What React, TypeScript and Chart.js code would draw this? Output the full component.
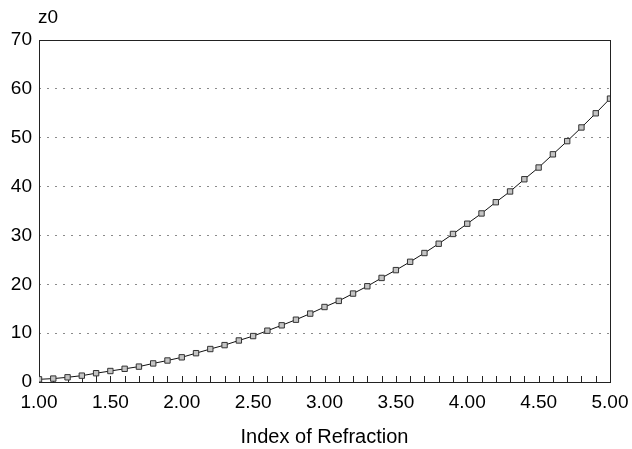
import React, { useEffect, useRef } from "react";
import { Chart, registerables } from "chart.js";

Chart.register(...registerables);

const indexValues = [
  1.0, 1.1, 1.2, 1.3, 1.4, 1.5, 1.6, 1.7, 1.8, 1.9,
  2.0, 2.1, 2.2, 2.3, 2.4, 2.5, 2.6, 2.7, 2.8, 2.9,
  3.0, 3.1, 3.2, 3.3, 3.4, 3.5, 3.6, 3.7, 3.8, 3.9,
  4.0, 4.1, 4.2, 4.3, 4.4, 4.5, 4.6, 4.7, 4.8, 4.9, 5.0,
];
const z0Values = [
  0.55, 0.7, 0.96, 1.3, 1.8, 2.25, 2.7, 3.15, 3.8, 4.4,
  5.05, 5.9, 6.75, 7.55, 8.5, 9.4, 10.5, 11.6, 12.75, 14.0,
  15.35, 16.6, 18.1, 19.6, 21.3, 22.9, 24.6, 26.4, 28.3, 30.3,
  32.4, 34.5, 36.8, 39.0, 41.5, 43.9, 46.6, 49.3, 52.1, 55.0, 58.0,
];
const yAxisLabel = "z0";
const xAxisLabel = "Index of Refraction";
const X_MIN = 1;
const X_MAX = 5;
const X_STEP = 0.5;
const Y_MIN = 0;
const Y_MAX = 70;
const Y_STEP = 10;

const FONT = '"Liberation Sans", Arial, Helvetica, sans-serif';

const framePlugin = {
  id: "frame",
  beforeDatasetsDraw(chart: any) {
    const { ctx, chartArea: a, scales } = chart;
    ctx.save();
    ctx.strokeStyle = "#222";
    ctx.lineWidth = 1;
    ctx.beginPath();
    for (const v of indexValues) {
      const px = Math.round(scales.x.getPixelForValue(v)) + 0.5;
      ctx.moveTo(px, a.bottom);
      ctx.lineTo(px, a.bottom - 6);
    }
    ctx.stroke();
    ctx.strokeRect(Math.round(a.left) + 0.5, Math.round(a.top) + 0.5, Math.round(a.right - a.left), Math.round(a.bottom - a.top));
    ctx.fillStyle = "#000";
    ctx.font = `19px ${FONT}`;
    ctx.textAlign = "left";
    ctx.textBaseline = "alphabetic";
    ctx.fillText(yAxisLabel, a.left - 1, a.top - 17);
    ctx.restore();
  },
};

export default function App() {
  const ref = useRef<HTMLCanvasElement | null>(null);
  useEffect(() => {
    if (!ref.current) return;
    const chart = new Chart(ref.current, {
      type: "line",
      data: {
        datasets: [
          {
            data: indexValues.map((x, i) => ({ x, y: z0Values[i] })),
            borderColor: "#111",
            borderWidth: 1,
            pointStyle: "rect",
            pointRadius: 3.8,
            pointBackgroundColor: "#c4c4c4",
            pointBorderColor: "#333",
            pointBorderWidth: 1,
            tension: 0,
            fill: false,
          },
        ],
      },
      options: {
        responsive: false,
        animation: false,
        layout: { padding: { top: 40, right: 22, left: 0, bottom: 0 } },
        plugins: { legend: { display: false }, tooltip: { enabled: false } },
        scales: {
          x: {
            type: "linear",
            min: X_MIN,
            max: X_MAX,
            afterFit: (s: any) => { s.height = 67; s.paddingLeft = 0; s.paddingRight = 0; },
            grid: { display: false, drawTicks: false },
            border: { display: false },
            ticks: {
              stepSize: X_STEP,
              padding: 9,
              color: "#000",
              font: { family: FONT, size: 19 },
              maxRotation: 0,
              autoSkip: false,
              callback: (v: any) => Number(v).toFixed(2),
            },
            title: {
              display: true,
              text: xAxisLabel,
              color: "#000",
              font: { family: FONT, size: 20 },
              padding: { top: 0, bottom: 0 },
            },
          },
          y: {
            type: "linear",
            min: Y_MIN,
            max: Y_MAX,
            afterFit: (s: any) => { s.width = 39; s.paddingTop = 0; s.paddingBottom = 0; },
            grid: { color: "#8a8a8a", lineWidth: 1, drawTicks: false },
            border: { display: false, dash: [2, 6] },
            ticks: {
              stepSize: Y_STEP,
              padding: 7,
              color: "#000",
              font: { family: FONT, size: 19 },
            },
          },
        },
      },
      plugins: [framePlugin],
    });
    return () => chart.destroy();
  }, []);
  return (
    <div style={{ position: "fixed", left: 0, top: 0, width: 632, height: 449, background: "#fff" }}>
      <canvas ref={ref} width={632} height={449} />
    </div>
  );
}
